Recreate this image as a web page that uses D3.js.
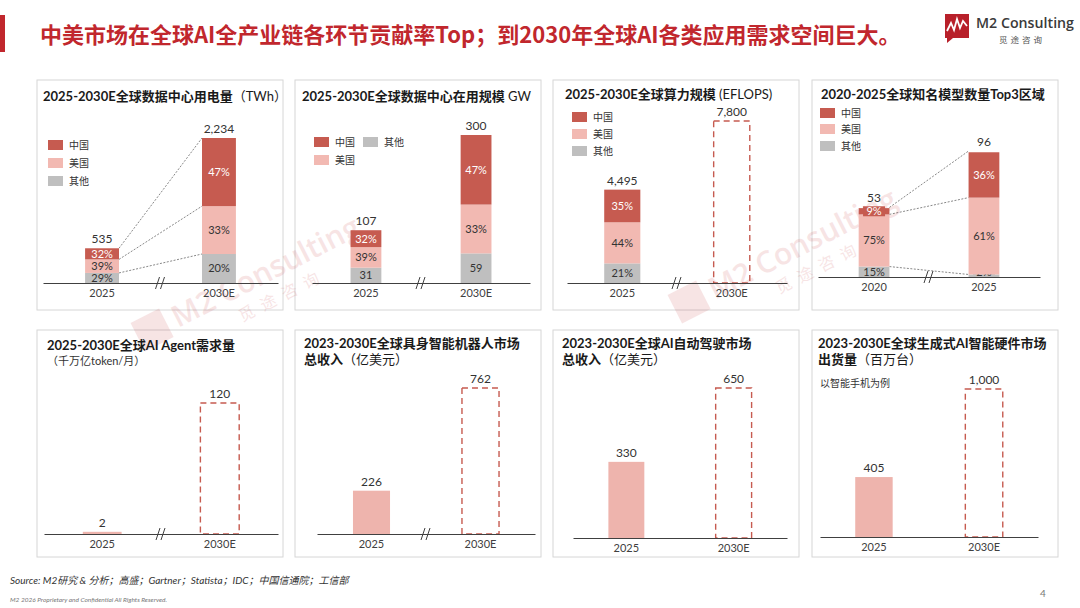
<!DOCTYPE html>
<html lang="zh">
<head>
<meta charset="UTF-8">
<title>AI 全产业链</title>
<style>
  body { margin: 0; background: #fff; }
  svg { display: block; font-family: "Lato", "Noto Sans CJK SC", sans-serif; }
  .panel-box { fill: #fff; stroke: #d6d6d6; stroke-width: 1; }
  .axis path { stroke: #404040; stroke-width: 1; }
  .axis text { font-size: 11px; fill: #404040; font-family: "Lato", sans-serif; }
</style>
</head>
<body>
<svg id="chart" width="1080" height="608"></svg>
<script src="https://d3js.org/d3.v7.min.js"></script>
<script>
// ---- data ----
const regionKeys = ["其他", "美国", "中国"];

// 全球数据中心用电量 (TWh)
const powerYears = ["2025", "2030E"];
const powerTotal = [535, 2234];
const powerChina = [32, 47];
const powerUS = [39, 33];
const powerOther = [29, 20];

// 全球数据中心在用规模 GW
const capYears = ["2025", "2030E"];
const capTotal = [107, 300];
const capChina = [32, 47];
const capUS = [39, 33];
const capOther = [29, 20];
const capOtherLabels = ["31", "59"];

// 全球算力规模 (EFLOPS)
const computeYears = ["2025", "2030E"];
const computeTotal = [4495, 7800];
const computeChina = [35, null];
const computeUS = [44, null];
const computeOther = [21, null];

// 全球知名模型数量Top3区域
const modelYears = ["2020", "2025"];
const modelTotal = [53, 96];
const modelChina = [9, 36];
const modelUS = [75, 61];
const modelOther = [15, 2];

// 单值面板
const agentYears = ["2025", "2030E"];
const agentValues = [2, 120];
const robotYears = ["2025", "2030E"];
const robotValues = [226, 762];
const autoYears = ["2025", "2030E"];
const autoValues = [330, 650];
const deviceYears = ["2025", "2030E"];
const deviceValues = [405, 1000];

// ---- styles ----
const colors = { "中国": "#C65B50", "美国": "#F2B9B2", "其他": "#BFBFBF" };
const barPink = "#EEB4AD";
const dashRed = "#C65B50";
const fmt = d3.format(",");

const svg = d3.select("#chart");

// header
svg.append("rect").attr("x", 0).attr("y", 15).attr("width", 5).attr("height", 37).attr("fill", "#C1272D");
svg.append("text")
  .attr("x", 40).attr("y", 43)
  .attr("fill", "#C1272D")
  .style("font-size", "22px").style("font-weight", "bold")
  .style("font-family", "'Noto Sans CJK SC', sans-serif")
  .text("中美市场在全球AI全产业链各环节贡献率Top；到2030年全球AI各类应用需求空间巨大。");

// logo
const logo = svg.append("g").attr("transform", "translate(945,14)");
logo.append("rect").attr("width", 24).attr("height", 24).attr("fill", "#B8202A");
logo.append("polyline")
  .attr("points", "2,17 6,9 9,16 12,5 15,14 18,7 22,12")
  .attr("fill", "none").attr("stroke", "#fff").attr("stroke-width", 1.8);
logo.append("path").attr("d", "M2,24 L8,24 L2,29 Z").attr("fill", "#B8202A");
svg.append("text").attr("x", 976).attr("y", 28)
  .attr("fill", "#3a3a3a").style("font-size", "14px").style("font-weight", 600)
  .style("font-family", "'Open Sans', sans-serif")
  .attr("textLength", 98).attr("lengthAdjust", "spacingAndGlyphs")
  .text("M2 Consulting");
svg.append("text").attr("x", 999).attr("y", 43)
  .attr("fill", "#555").style("font-size", "8.5px").style("letter-spacing", "3px")
  .style("font-family", "'Noto Sans CJK SC', sans-serif")
  .text("觅途咨询");

// watermarks
function watermark(tx, ty) {
  const w = svg.append("g").attr("transform", `translate(${tx},${ty}) rotate(-27)`).attr("opacity", 0.12);
  w.append("rect").attr("x", -40).attr("y", -26).attr("width", 32).attr("height", 32).attr("fill", "#C1272D");
  w.append("text").attr("x", 0).attr("y", 0).attr("fill", "#C1272D")
    .style("font-size", "30px").style("font-weight", 600).style("font-family", "'Open Sans', sans-serif")
    .text("M2 Consulting");
  w.append("text").attr("x", 60).attr("y", 24).attr("fill", "#C1272D")
    .style("font-size", "16px").style("letter-spacing", "8px").style("font-family", "'Noto Sans CJK SC', sans-serif")
    .text("觅途咨询");
}

// panel frames
const colX = [37, 295, 553, 812];
const panelW = 246;
[[80, 230], [330, 227]].forEach(([py, ph]) => {
  colX.forEach(px => {
    svg.append("rect").attr("class", "panel-box")
      .attr("x", px).attr("y", py).attr("width", panelW).attr("height", ph);
  });
});

function title(lines, x, y0, lh) {
  lines.forEach((parts, i) => {
    const t = svg.append("text").attr("x", x).attr("y", y0 + i * lh)
      .attr("fill", "#1a1a1a").style("font-size", "13px")
      .style("font-family", "'Lato', 'Noto Sans CJK SC', sans-serif");
    parts.forEach(p => {
      t.append("tspan").text(p.t)
        .style("font-weight", p.b ? "bold" : "normal")
        .style("font-size", p.s ? p.s + "px" : null)
        .attr("fill", p.c || null);
    });
  });
}

function legend(items) {
  items.forEach(it => {
    svg.append("rect").attr("x", it.x).attr("y", it.y).attr("width", 15).attr("height", 10)
      .attr("fill", colors[it.name]);
    svg.append("text").attr("x", it.x + 21).attr("y", it.y + 9)
      .attr("fill", "#333").style("font-size", "10px")
      .style("font-family", "'Noto Sans CJK SC', sans-serif")
      .text(it.name);
  });
}

function breakMark(xc, yc) {
  [-3, 2].forEach(dx => {
    svg.append("line")
      .attr("x1", xc + dx - 2).attr("y1", yc + 6)
      .attr("x2", xc + dx + 2).attr("y2", yc - 6)
      .attr("stroke", "#404040").attr("stroke-width", 1);
  });
}

function makeScales(cfg) {
  const x = d3.scaleBand().domain(cfg.cats).range(cfg.axisX)
    .paddingInner(cfg.pi).paddingOuter(cfg.po);
  const y = d3.scaleLinear().domain([0, cfg.max]).range([cfg.base, cfg.top]);
  return { x, y };
}

function drawAxis(cfg, x) {
  svg.append("g").attr("class", "axis")
    .attr("transform", `translate(0,${cfg.base})`)
    .call(d3.axisBottom(x).tickSize(0).tickSizeOuter(0).tickPadding(6))
    .call(g => g.selectAll("text").attr("dy", "0.71em"));
  if (cfg.brk) breakMark((cfg.axisX[0] + cfg.axisX[1]) / 2, cfg.base);
}

function valueLabel(xc, yTop, v) {
  svg.append("text").attr("x", xc).attr("y", yTop - 5)
    .attr("text-anchor", "middle").attr("fill", "#333")
    .style("font-size", "12px").text(fmt(v));
}

function dashedBar(x, y, cfg, cat, v) {
  svg.append("rect")
    .attr("x", x(cat)).attr("y", y(v))
    .attr("width", x.bandwidth()).attr("height", cfg.base - y(v))
    .attr("fill", "none").attr("stroke", dashRed).attr("stroke-width", 1.4)
    .attr("stroke-dasharray", "6,4");
}

// stacked panel
function drawStacked(cfg) {
  const { x, y } = makeScales(cfg);
  const rows = cfg.cats.map((c, i) => ({
    cat: c, total: cfg.total[i],
    "中国": cfg.china[i] == null ? 0 : cfg.total[i] * cfg.china[i] / 100,
    "美国": cfg.us[i] == null ? 0 : cfg.total[i] * cfg.us[i] / 100,
    "其他": cfg.other[i] == null ? 0 : cfg.total[i] * cfg.other[i] / 100,
    share: { "中国": cfg.china[i], "美国": cfg.us[i], "其他": cfg.other[i] }
  }));
  const stacked = d3.stack().keys(regionKeys)(rows);

  // connectors
  if (cfg.connect) {
    const a = rows[0], b = rows[1];
    const xa = x(a.cat) + x.bandwidth(), xb = x(b.cat);
    const topsA = [a.total, a["其他"] + a["美国"], a["其他"]];
    const topsB = [b.total, b["其他"] + b["美国"], b["其他"]];
    topsA.forEach((ta, k) => {
      svg.append("line")
        .attr("x1", xa).attr("y1", y(ta)).attr("x2", xb).attr("y2", y(topsB[k]))
        .attr("stroke", "#555").attr("stroke-width", 0.7).attr("stroke-dasharray", "2,1.5");
    });
  }

  stacked.forEach(layer => {
    const key = layer.key;
    layer.forEach((d, i) => {
      const row = rows[i];
      if (row.share[key] == null) return;
      const y0 = y(d[0]), y1 = y(d[1]);
      const xc = x(row.cat) + x.bandwidth() / 2;
      svg.append("rect")
        .attr("x", x(row.cat)).attr("y", y1)
        .attr("width", x.bandwidth()).attr("height", y0 - y1)
        .attr("fill", colors[key]);
      const label = key === "其他" && cfg.otherLabels ? cfg.otherLabels[i] : row.share[key] + "%";
      let ym = (y0 + y1) / 2;
      if (y0 - y1 < 9) {
        ym = Math.min(ym, cfg.base - 5);
        svg.append("rect").attr("x", xc - 11).attr("y", ym - 5).attr("width", 22).attr("height", 10)
          .attr("fill", colors[key]);
      }
      svg.append("text").attr("x", xc).attr("y", ym).attr("dy", "0.36em")
        .attr("text-anchor", "middle")
        .attr("fill", key === "中国" ? "#fff" : "#333")
        .style("font-size", "11px").text(label);
    });
  });

  rows.forEach((row, i) => {
    if (cfg.china[i] == null) dashedBar(x, y, cfg, row.cat, row.total);
    valueLabel(x(row.cat) + x.bandwidth() / 2, y(row.total), row.total);
  });
  drawAxis(cfg, x);
}

function drawSimple(cfg) {
  const { x, y } = makeScales(cfg);
  cfg.cats.forEach((c, i) => {
    const v = cfg.values[i];
    if (c.endsWith("E")) {
      dashedBar(x, y, cfg, c, v);
    } else {
      svg.append("rect")
        .attr("x", x(c)).attr("y", y(v))
        .attr("width", x.bandwidth()).attr("height", Math.max(1.5, cfg.base - y(v)))
        .attr("fill", barPink);
    }
    valueLabel(x(c) + x.bandwidth() / 2, Math.min(y(v), cfg.base - 2), v);
  });
  drawAxis(cfg, x);
}

watermark(178, 328);
watermark(715, 300);

// ---- top row ----
title([[{ t: "2025-2030E全球数据中心用电量", b: true }, { t: "（TWh）" }]], 43, 101, 0);
legend([{ name: "中国", x: 48, y: 140 }, { name: "美国", x: 48, y: 158 }, { name: "其他", x: 48, y: 176 }]);
drawStacked({
  cats: powerYears, total: powerTotal, china: powerChina, us: powerUS, other: powerOther,
  axisX: [43, 278], pi: 0.71, po: 0.36, base: 283, top: 138, max: 2234, brk: true, connect: true
});

title([[{ t: "2025-2030E全球数据中心在用规模", b: true }, { t: " GW" }]], 302, 101, 0);
legend([{ name: "中国", x: 314, y: 137 }, { name: "其他", x: 363, y: 137 }, { name: "美国", x: 314, y: 155 }]);
drawStacked({
  cats: capYears, total: capTotal, china: capChina, us: capUS, other: capOther, otherLabels: capOtherLabels,
  axisX: [312, 530], pi: 0.72, po: 0.35, base: 283, top: 135, max: 300, brk: true
});

title([[{ t: "2025-2030E全球算力规模", b: true }, { t: " (EFLOPS)" }]], 565, 99, 0);
legend([{ name: "中国", x: 572, y: 112 }, { name: "美国", x: 572, y: 129 }, { name: "其他", x: 572, y: 146 }]);
drawStacked({
  cats: computeYears, total: computeTotal, china: computeChina, us: computeUS, other: computeOther,
  axisX: [567, 787], pi: 0.67, po: 0.34, base: 283, top: 121, max: 7800, brk: true
});

title([[{ t: "2020-2025全球知名模型数量Top3区域", b: true }]], 821, 99, 0);
legend([{ name: "中国", x: 820, y: 108 }, { name: "美国", x: 820, y: 124 }, { name: "其他", x: 820, y: 141 }]);
drawStacked({
  cats: modelYears, total: modelTotal, china: modelChina, us: modelUS, other: modelOther,
  axisX: [818, 1040], pi: 0.72, po: 0.37, base: 277, top: 151, max: 96, brk: true, connect: true
});

// ---- bottom row ----
title([[{ t: "2025-2030E全球AI Agent需求量", b: true }], [{ t: "（千万亿token/月）", s: 11, c: "#333" }]], 47, 350, 15);
drawSimple({ cats: agentYears, values: agentValues, axisX: [44, 278], pi: 0.67, po: 0.33, base: 534, top: 403, max: 120, brk: true });

title([[{ t: "2023-2030E全球具身智能机器人市场", b: true }], [{ t: "总收入", b: true }, { t: "（亿美元）" }]], 304, 348, 16);
drawSimple({ cats: robotYears, values: robotValues, axisX: [317, 535], pi: 0.66, po: 0.33, base: 534, top: 388, max: 762, brk: true });

title([[{ t: "2023-2030E全球AI自动驾驶市场", b: true }], [{ t: "总收入", b: true }, { t: "（亿美元）" }]], 562, 348, 16);
drawSimple({ cats: autoYears, values: autoValues, axisX: [573, 787], pi: 0.665, po: 0.33, base: 538, top: 388, max: 650 });

title([[{ t: "2023-2030E全球生成式AI智能硬件市场", b: true }], [{ t: "出货量", b: true }, { t: "（百万台）" }]], 818, 348, 16);
svg.append("text").attr("x", 820).attr("y", 387).attr("fill", "#333")
  .style("font-size", "10px").style("font-family", "'Noto Sans CJK SC', sans-serif")
  .text("以智能手机为例");
drawSimple({ cats: deviceYears, values: deviceValues, axisX: [820, 1038], pi: 0.66, po: 0.32, base: 537, top: 389, max: 1000 });

// ---- footer ----
svg.append("text").attr("x", 10).attr("y", 584).attr("fill", "#333")
  .style("font-size", "10px").style("font-style", "italic")
  .text("Source:  M2研究 & 分析；高盛；Gartner；Statista；IDC；中国信通院；工信部");
svg.append("text").attr("x", 10).attr("y", 602).attr("fill", "#777")
  .style("font-size", "6.5px").style("font-style", "italic")
  .text("M2  2026 Proprietary and Confidential All Rights Reserved.");
svg.append("text").attr("x", 1040).attr("y", 597).attr("fill", "#777")
  .style("font-size", "10px").text("4");
</script>
</body>
</html>
